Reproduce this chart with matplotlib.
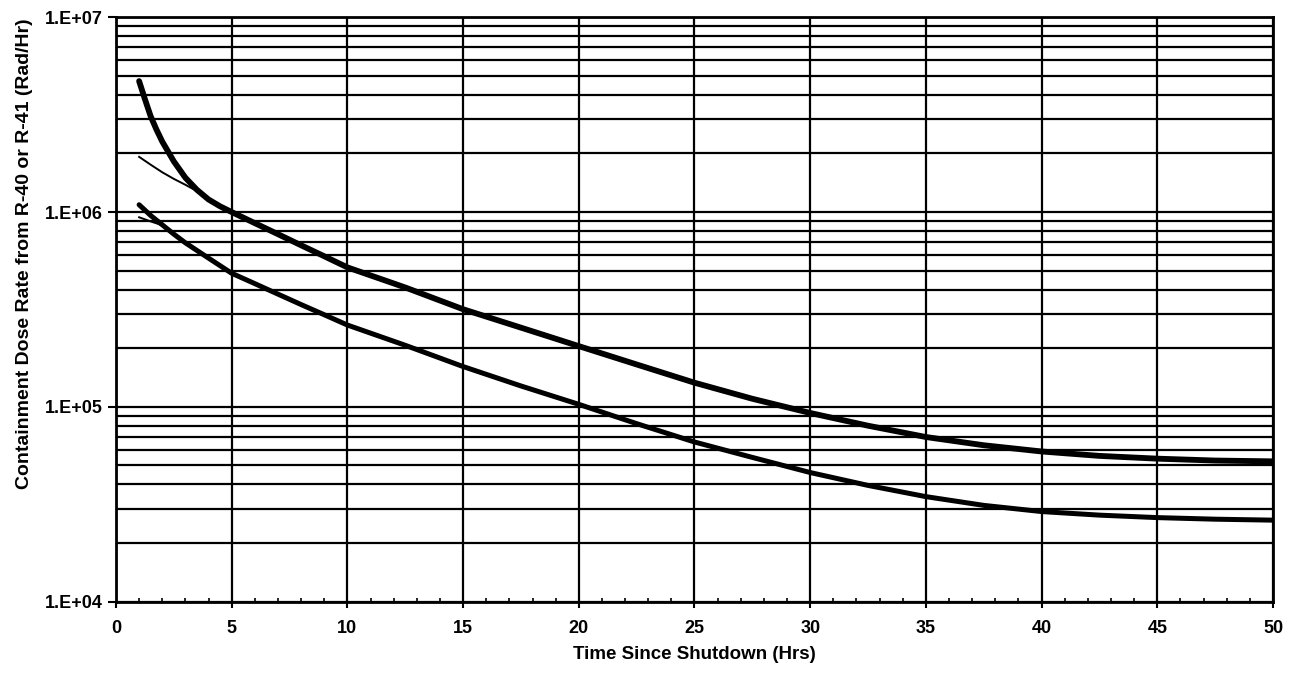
import matplotlib
matplotlib.use("Agg")
import matplotlib.pyplot as plt
from matplotlib.ticker import FixedLocator, FixedFormatter, MultipleLocator

plt.rcParams['font.family'] = ['Liberation Sans', 'DejaVu Sans']
plt.rcParams['font.weight'] = 'bold'

# upper thick curve
x_upper = [1, 1.25, 1.5, 1.75, 2, 2.5, 3, 3.5, 4, 4.5, 5, 6, 7, 8, 9, 10, 12.5, 15,
           17.5, 20, 22.5, 25, 27.5, 30, 32.5, 35, 37.5, 40, 42.5, 45, 47.5, 50]
y_upper = [4.7e6, 3.8e6, 3.1e6, 2.65e6, 2.3e6, 1.82e6, 1.5e6, 1.3e6, 1.16e6, 1.07e6,
           1.0e6, 8.77e5, 7.7e5, 6.75e5, 5.93e5, 5.2e5, 4.1e5, 3.17e5, 2.55e5, 2.05e5,
           1.65e5, 1.33e5, 1.1e5, 9.3e4, 8.0e4, 7.0e4, 6.35e4, 5.9e4, 5.6e4, 5.42e4,
           5.3e4, 5.25e4]

# thin segment leading into the upper curve
x_upper_thin = [1, 1.5, 2, 2.5, 3, 3.5]
y_upper_thin = [1.92e6, 1.75e6, 1.6e6, 1.48e6, 1.38e6, 1.28e6]

# lower thick curve
x_lower = [1, 1.5, 2, 2.5, 3, 4, 5, 6, 7, 8, 9, 10, 12.5, 15, 17.5, 20, 22.5, 25,
           27.5, 30, 32.5, 35, 37.5, 40, 42.5, 45, 47.5, 50]
y_lower = [1.09e6, 9.6e5, 8.6e5, 7.7e5, 6.95e5, 5.8e5, 4.85e5, 4.29e5, 3.79e5, 3.35e5,
           2.97e5, 2.63e5, 2.07e5, 1.61e5, 1.28e5, 1.03e5, 8.2e4, 6.6e4, 5.5e4, 4.6e4,
           3.95e4, 3.46e4, 3.12e4, 2.9e4, 2.78e4, 2.7e4, 2.65e4, 2.62e4]

# thin segment leading into the lower curve
x_lower_thin = [1, 1.5, 2]
y_lower_thin = [9.4e5, 8.95e5, 8.55e5]

y_major = [1e4, 1e5, 1e6, 1e7]
y_labels = ['1.E+04', '1.E+05', '1.E+06', '1.E+07']
y_minor = [m * d for d in [1e4, 1e5, 1e6] for m in range(2, 10)]

fig = plt.figure(figsize=(13.03, 6.76), dpi=100)
ax = fig.add_axes([0.089, 0.110, 0.888, 0.8645])

ax.set_yscale('log')
ax.set_xlim(0, 50)
ax.set_ylim(1e4, 1e7)

ax.plot(x_upper_thin, y_upper_thin, color='black', lw=1.4, zorder=3)
ax.plot(x_lower_thin, y_lower_thin, color='black', lw=1.4, zorder=3)
ax.plot(x_upper, y_upper, color='black', lw=4.2, solid_capstyle='round', zorder=4)
ax.plot(x_lower, y_lower, color='black', lw=3.6, solid_capstyle='round', zorder=4)

ax.xaxis.set_major_locator(MultipleLocator(5))
ax.xaxis.set_minor_locator(MultipleLocator(1))
ax.yaxis.set_major_locator(FixedLocator(y_major))
ax.yaxis.set_major_formatter(FixedFormatter(y_labels))
ax.yaxis.set_minor_locator(FixedLocator(y_minor))
ax.yaxis.set_minor_formatter(FixedFormatter([''] * len(y_minor)))

ax.grid(True, which='major', axis='both', color='black', lw=1.6)
ax.grid(True, which='minor', axis='y', color='black', lw=1.6)

ax.tick_params(axis='x', which='major', direction='out', length=4, width=1.5,
               labelsize=13, pad=9)
ax.tick_params(axis='x', which='minor', direction='in', length=3, width=1.2)
ax.tick_params(axis='y', which='major', direction='out', length=5.5, width=1.5,
               labelsize=13, pad=4)
ax.tick_params(axis='y', which='minor', length=0)

for s in ax.spines.values():
    s.set_linewidth(2)
    s.set_color('black')

ax.set_xlabel('Time Since Shutdown (Hrs)', fontsize=13.5, fontweight='bold', labelpad=7)
ax.set_ylabel('Containment Dose Rate from R-40 or R-41 (Rad/Hr)', fontsize=14,
              fontweight='bold', labelpad=6)
ax.yaxis.set_label_coords(-0.072, 0.595)

fig.savefig('out.png', dpi=100)
